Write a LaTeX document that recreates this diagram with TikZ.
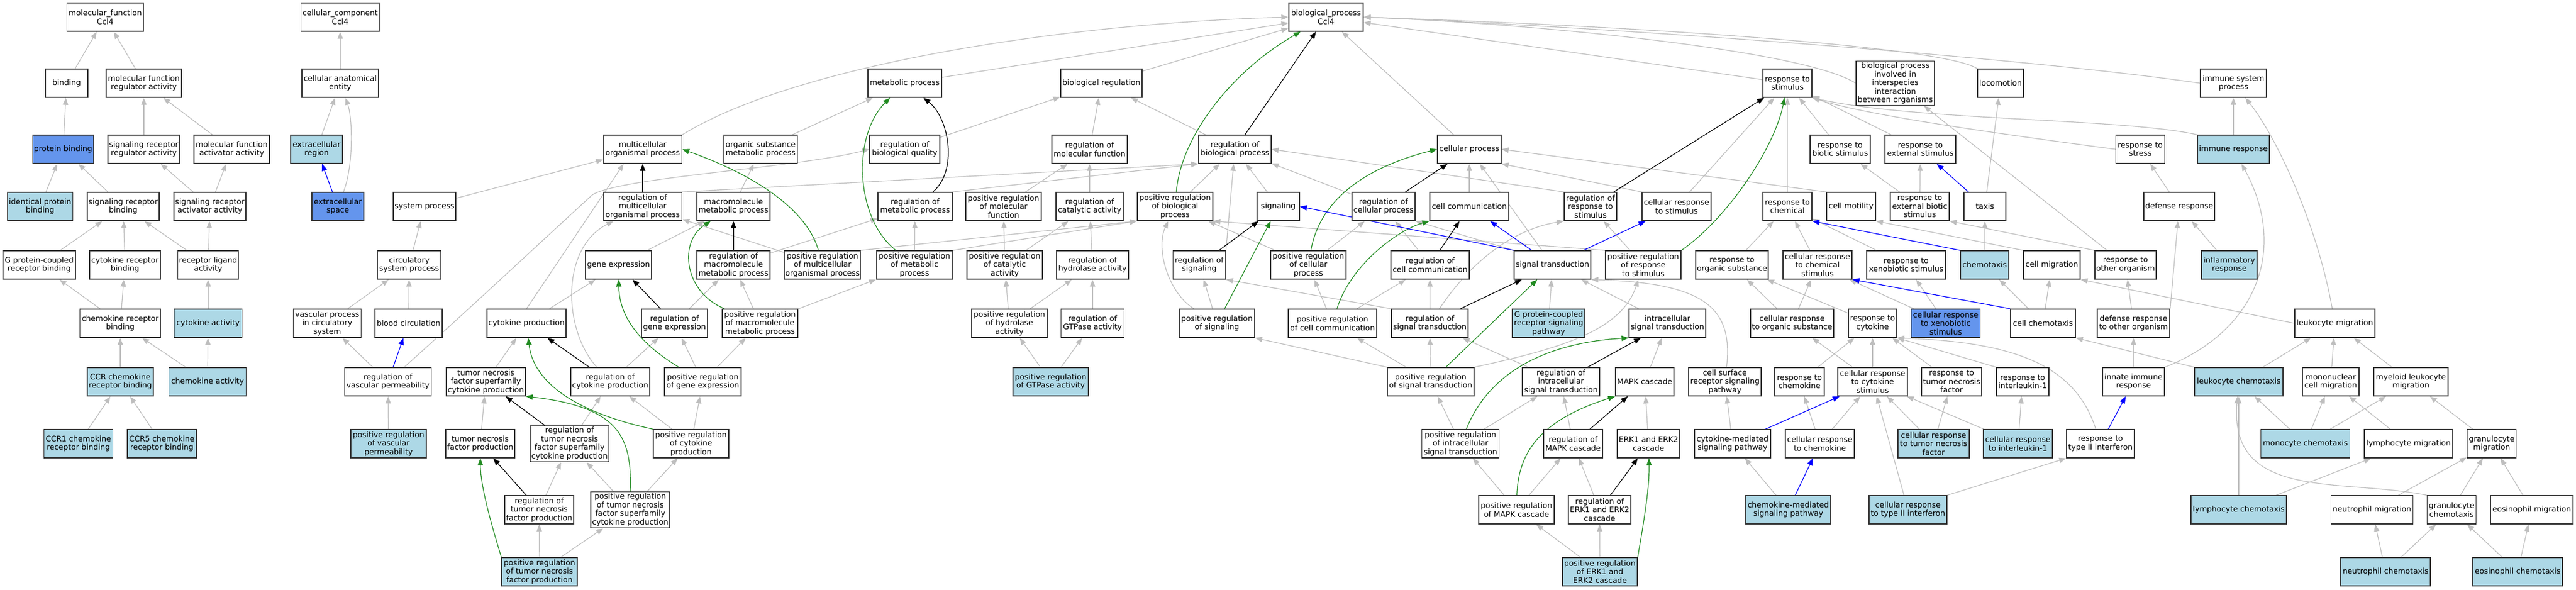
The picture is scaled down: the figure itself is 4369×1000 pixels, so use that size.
\documentclass[tikz,border=0pt]{standalone}
\usepackage{fontspec}
\setmainfont{DejaVu Sans}
\usetikzlibrary{arrows.meta,backgrounds}
\definecolor{lb}{HTML}{ADD8E6}
\definecolor{db}{HTML}{6495ED}
\definecolor{edgegray}{HTML}{BEBEBE}
\definecolor{fgreen}{HTML}{228B22}

\begin{document}
\begin{tikzpicture}[x=1pt, y=-1pt,
	term/.style={draw=black!80, line width=1.4pt, fill=white, rectangle, minimum width=#1, minimum height=48pt, inner xsep=1pt, inner ysep=2.5pt, align=center, font=\fontsize{13}{14.5}\selectfont},
	lbterm/.style={term=#1, fill=lb},
	dbterm/.style={term=#1, fill=db},
	link/.style={line width=1.2pt, -{Triangle[length=12pt,width=9pt]}},
	isa/.style={link, draw=edgegray},
	regl/.style={link, draw=black},
	posl/.style={link, draw=fgreen},
	partl/.style={link, draw=blue}]
			\useasboundingbox (0,0) rectangle (4369,1000);
			% rank 0
			\node[term=130] (mf) at (178.5,29) {molecular\_function\\Ccl4};
			\node[term=133] (cc) at (577,29) {cellular\_component\\Ccl4};
			\node[term=126] (biop) at (2249,29) {biological\_process\\Ccl4};
			% rank 1
			\node[term=72] (binding) at (113,141) {binding};
			\node[term=128] (mfreg) at (244,141) {molecular function\\regulator activity};
			\node[term=130] (cae) at (577,141) {cellular anatomical\\entity};
			\node[term=125] (metab) at (1534.5,141) {metabolic process};
			\node[term=138] (bioreg) at (1868,141) {biological regulation};
			\node[term=83] (respstim) at (3031.5,141) {response to\\stimulus};
			\node[term=133] (bpinter) at (3214.5,141) {biological process\\involved in\\interspecies\\interaction\\between organisms};
			\node[term=78] (locom) at (3393,141) {locomotion};
			\node[term=112] (immsys) at (3788,141) {immune system\\process};
			% rank 2
			\node[dbterm=103] (protbind) at (107,253) {protein binding};
			\node[term=122] (srra) at (244,253) {signaling receptor\\regulator activity};
			\node[term=128] (mfaa) at (393,253) {molecular function\\activator activity};
			\node[lbterm=88] (exreg) at (537,253) {extracellular\\region};
			\node[term=133] (multi) at (1090,253) {multicellular\\organismal process};
			\node[term=125] (organic) at (1290,253) {organic substance\\metabolic process};
			\node[term=119] (regbq) at (1534.5,253) {regulation of\\biological quality};
			\node[term=128] (regmf) at (1848,253) {regulation of\\molecular function};
			\node[term=123] (regbp) at (2094.5,253) {regulation of\\biological process};
			\node[term=108] (cellproc) at (2492,253) {cellular process};
			\node[term=102] (respbio) at (3121,253) {response to\\biotic stimulus};
			\node[term=120] (respext) at (3257,253) {response to\\external stimulus};
			\node[term=83] (respstress) at (3630,253) {response to\\stress};
			\node[lbterm=122] (immresp) at (3788,253) {immune response};
			% rank 3
			\node[lbterm=111] (idprot) at (68,350) {identical protein\\binding};
			\node[term=122] (srb) at (209,350) {signaling receptor\\binding};
			\node[term=122] (sraa) at (356,350) {signaling receptor\\activator activity};
			\node[dbterm=88] (exspace) at (573,350) {extracellular\\space};
			\node[term=106] (sysproc) at (720,350) {system process};
			\node[term=133] (regmulti) at (1090,350) {regulation of\\multicellular\\organismal process};
			\node[term=124] (macro) at (1244,350) {macromolecule\\metabolic process};
			\node[term=126] (regmetab) at (1552,350) {regulation of\\metabolic process};
			\node[term=128] (posregmf) at (1702,350) {positive regulation\\of molecular\\function};
			\node[term=114] (regcat) at (1848,350) {regulation of\\catalytic activity};
			\node[term=128] (posregbp) at (1993,350) {positive regulation\\of biological\\process};
			\node[term=72] (signaling) at (2168,350) {signaling};
			\node[term=107] (regcp) at (2346.5,350) {regulation of\\cellular process};
			\node[term=134] (cellcomm) at (2492,350) {cell communication};
			\node[term=89] (regresp) at (2697.5,350) {regulation of\\response to\\stimulus};
			\node[term=117] (cellresp) at (2843.5,350) {cellular response\\to stimulus};
			\node[term=83] (respchem) at (3031.5,350) {response to\\chemical};
			\node[term=83] (cellmot) at (3139.5,350) {cell motility};
			\node[term=100] (respextbio) at (3256,350) {response to\\external biotic\\stimulus};
			\node[term=71] (taxis) at (3366.5,350) {taxis};
			\node[term=120] (defense) at (3696,350) {defense response};
			% rank 4
			\node[term=123] (gpcrb) at (66.5,449) {G protein-coupled\\receptor binding};
			\node[term=120] (crb) at (212,449) {cytokine receptor\\binding};
			\node[term=103] (rla) at (353,449) {receptor ligand\\activity};
			\node[term=107] (circ) at (694,449) {circulatory\\system process};
			\node[term=112] (geneexp) at (1049,449) {gene expression};
			\node[term=124] (regmacro) at (1244,449) {regulation of\\macromolecule\\metabolic process};
			\node[term=129] (posregmulti) at (1395,449) {positive regulation\\of multicellular\\organismal process};
			\node[term=129] (posregmetab) at (1551,449) {positive regulation\\of metabolic\\process};
			\node[term=128] (posregcat) at (1704,449) {positive regulation\\of catalytic\\activity};
			\node[term=122] (reghydro) at (1853,449) {regulation of\\hydrolase activity};
			\node[term=89] (regsig) at (2034,449) {regulation of\\signaling};
			\node[term=128] (posregcp) at (2219,449) {positive regulation\\of cellular\\process};
			\node[term=133] (regcc) at (2425.5,449) {regulation of\\cell communication};
			\node[term=130] (sigtrans) at (2633,449) {signal transduction};
			\node[term=128] (posregresp) at (2787,449) {positive regulation\\of response\\to stimulus};
			\node[term=123] (respnorg) at (2937.5,449) {response to\\organic substance};
			\node[term=117] (cellrespchem) at (3082.5,449) {cellular response\\to chemical\\stimulus};
			\node[term=134] (respxeno) at (3233,449) {response to\\xenobiotic stimulus};
			\node[lbterm=82] (chemotaxis) at (3366,449) {chemotaxis};
			\node[term=96] (cellmig) at (3480,449) {cell migration};
			\node[term=104] (respother) at (3605,449) {response to\\other organism};
			\node[lbterm=94] (inflam) at (3781,449) {inflammatory\\response};
			% rank 5
			\node[term=137] (chemrb) at (204,548) {chemokine receptor\\binding};
			\node[lbterm=115] (cytact) at (353,548) {cytokine activity};
			\node[term=115] (vasc) at (555,548) {vascular process\\in circulatory\\system};
			\node[term=114] (bloodcirc) at (693,548) {blood circulation};
			\node[term=134] (cytprod) at (893,548) {cytokine production};
			\node[term=112] (reggene) at (1144,548) {regulation of\\gene expression};
			\node[term=128] (posregmacro) at (1289,548) {positive regulation\\of macromolecule\\metabolic process};
			\node[term=128] (posreghydro) at (1712,548) {positive regulation\\of hydrolase\\activity};
			\node[term=107] (reggtp) at (1853,548) {regulation of\\GTPase activity};
			\node[term=128] (posregsig) at (2064,548) {positive regulation\\of signaling};
			\node[term=150] (posregcc) at (2260,548) {positive regulation\\of cell communication};
			\node[term=130] (regst) at (2425,548) {regulation of\\signal transduction};
			\node[lbterm=123] (gpcrsp) at (2626.5,548) {G protein-coupled\\receptor signaling\\pathway};
			\node[term=130] (intra) at (2828,548) {intracellular\\signal transduction};
			\node[term=141] (cellresporg) at (3039.5,548) {cellular response\\to organic substance};
			\node[term=82] (respcyt) at (3176,548) {response to\\cytokine};
			\node[dbterm=117] (cellrespxeno) at (3300,548) {cellular response\\to xenobiotic\\stimulus};
			\node[term=110] (cellchemo) at (3465,548) {cell chemotaxis};
			\node[term=123] (defother) at (3618.5,548) {defense response\\to other organism};
			\node[term=136] (leukmig) at (3960,548) {leukocyte migration};
			% rank 6
			\node[lbterm=112] (ccrb) at (204,647) {CCR chemokine\\receptor binding};
			\node[lbterm=131] (chemact) at (352,647) {chemokine activity};
			\node[term=147] (regvp) at (658,647) {regulation of\\vascular permeability};
			\node[term=134] (tnfsf) at (824,647) {tumor necrosis\\factor superfamily\\cytokine production};
			\node[term=134] (regcyt) at (1035,647) {regulation of\\cytokine production};
			\node[term=130] (posreggene) at (1192,647) {positive regulation\\of gene expression};
			\node[lbterm=128] (posreggtp) at (1782,647) {positive regulation\\of GTPase activity};
			\node[term=147] (posregst) at (2426.5,647) {positive regulation\\of signal transduction};
			\node[term=131] (regintra) at (2647.5,647) {regulation of\\intracellular\\signal transduction};
			\node[term=99] (mapk) at (2789.5,647) {MAPK cascade};
			\node[term=123] (csrsp) at (2925.5,647) {cell surface\\receptor signaling\\pathway};
			\node[term=84] (respchemok) at (3052,647) {response to\\chemokine};
			\node[term=118] (cellrespcyt) at (3176,647) {cellular response\\to cytokine\\stimulus};
			\node[term=102] (resptnf) at (3310,647) {response to\\tumor necrosis\\factor};
			\node[term=89] (respil1) at (3430.5,647) {response to\\interleukin-1};
			\node[term=105] (innate) at (3618.5,647) {innate immune\\response};
			\node[lbterm=150] (leukchemo) at (3797,647) {leukocyte chemotaxis};
			\node[term=96] (mononuc) at (3953,647) {mononuclear\\cell migration};
			\node[term=126] (myeloid) at (4089,647) {myeloid leukocyte\\migration};
			% rank 7
			\node[lbterm=117] (ccr1) at (133,752) {CCR1 chemokine\\receptor binding};
			\node[lbterm=117] (ccr5) at (274.5,752) {CCR5 chemokine\\receptor binding};
			\node[lbterm=128] (posregvp) at (659,752) {positive regulation\\of vascular\\permeability};
			\node[term=117] (tnfprod) at (814.5,752) {tumor necrosis\\factor production};
			\node[term=133] (regtnfsf) at (966,752) {regulation of\\tumor necrosis\\factor superfamily\\cytokine production};
			\node[term=128] (posregcyt) at (1172,752) {positive regulation\\of cytokine\\production};
			\node[term=131] (posregintra) at (2477,752) {positive regulation\\of intracellular\\signal transduction};
			\node[term=100] (regmapk) at (2668,752) {regulation of\\MAPK cascade};
			\node[term=106] (erk) at (2796,752) {ERK1 and ERK2\\cascade};
			\node[term=129] (cytmsp) at (2938.5,752) {cytokine-mediated\\signaling pathway};
			\node[term=117] (cellrespchemok) at (3086.5,752) {cellular response\\to chemokine};
			\node[lbterm=121] (cellresptnf) at (3279.5,752) {cellular response\\to tumor necrosis\\factor};
			\node[lbterm=117] (cellrespil1) at (3422.5,752) {cellular response\\to interleukin-1};
			\node[term=115] (resptype2) at (3562.5,752) {response to\\type II interferon};
			\node[lbterm=151] (monochemo) at (3910,752) {monocyte chemotaxis};
			\node[term=150] (lymphmig) at (4085,752) {lymphocyte migration};
			\node[term=83] (granmig) at (4226,752) {granulocyte\\migration};
			% rank 8
			\node[term=117] (regtnf) at (914.5,864) {regulation of\\tumor necrosis\\factor production};
			\node[term=134] (posregtnfsf) at (1069,864) {positive regulation\\of tumor necrosis\\factor superfamily\\cytokine production};
			\node[term=128] (posregmapk) at (2572,864) {positive regulation\\of MAPK cascade};
			\node[term=106] (regerk) at (2713,864) {regulation of\\ERK1 and ERK2\\cascade};
			\node[lbterm=144] (chemokmsp) at (3033,864) {chemokine-mediated\\signaling pathway};
			\node[lbterm=132] (cellresptype2) at (3236,864) {cellular response\\to type II interferon};
			\node[lbterm=162] (lymphchemo) at (3797,864) {lymphocyte chemotaxis};
			\node[term=139] (neutmig) at (4023,864) {neutrophil migration};
			\node[term=83] (granchemo) at (4158,864) {granulocyte\\chemotaxis};
			\node[term=140] (eosmig) at (4294,864) {eosinophil migration};
			% rank 9
			\node[lbterm=128] (posregtnf) at (915,969) {positive regulation\\of tumor necrosis\\factor production};
			\node[lbterm=127] (posregerk) at (2713.5,969) {positive regulation\\of ERK1 and\\ERK2 cascade};
			\node[lbterm=152] (neutchemo) at (4046,969) {neutrophil chemotaxis};
			\node[lbterm=152] (eoschemo) at (4270,969) {eosinophil chemotaxis};

			\begin{scope}[on background layer]
			\fill[white] (0,0) rectangle (4369,1000);
			% is_a
			\foreach \a/\b in {binding/mf, mfreg/mf, cae/cc, protbind/binding, srra/mfreg, mfaa/mfreg, exreg/cae,
				idprot/protbind, srb/protbind, sraa/srra, sraa/mfaa, gpcrb/srb, crb/srb, rla/srb, rla/sraa,
				chemrb/gpcrb, chemrb/crb, cytact/rla, ccrb/chemrb, chemact/chemrb, chemact/cytact, ccr1/ccrb, ccr5/ccrb,
				circ/sysproc, vasc/circ, bloodcirc/circ, regvp/vasc, posregvp/regvp, sysproc/multi,
				geneexp/macro, macro/organic, organic/metab, metab/biop, bioreg/biop, cellproc/biop, respstim/biop,
				regbq/bioreg, regmf/bioreg, regbp/bioreg, posregmf/regmf, regcat/regmf, posregcat/posregmf, posregcat/regcat,
				reghydro/regcat, posreghydro/posregcat, posreghydro/reghydro, reggtp/reghydro, posreggtp/posreghydro, posreggtp/reggtp,
				posregmetab/regmetab, posregmulti/regmulti, reggene/regmacro, posregmacro/regmacro, cytprod/geneexp,
				regmacro/regmetab, posregmacro/posregmetab, tnfsf/cytprod, regcyt/reggene, posreggene/reggene, posreggene/posregmacro,
				tnfprod/tnfsf, regtnfsf/regcyt, posregcyt/regcyt, posregcyt/posreggene, regtnf/regtnfsf, posregtnfsf/regtnfsf,
				posregtnfsf/posregcyt, posregtnf/regtnf, posregtnf/posregtnfsf,
				posregbp/regbp, signaling/regbp, posregcp/posregbp, posregsig/regsig, posregcp/regcp, regcc/regcp, regcp/regbp,
				cellcomm/cellproc, sigtrans/cellproc, cellresp/respstim, posregcc/posregcp, posregcc/regcc, regst/regcc,
				posregresp/regresp, posregst/posregcc, posregst/regst, regintra/regst, gpcrsp/sigtrans, intra/sigtrans,
				posregintra/posregst, posregintra/regintra, regmapk/regintra, mapk/intra, erk/mapk, posregmapk/posregintra,
				posregmapk/regmapk, regerk/regmapk, posregerk/posregmapk, posregerk/regerk,
				respchem/respstim, respbio/respstim, respext/respstim, respextbio/respbio, respextbio/respext, taxis/locom,
				respnorg/respchem, cellrespchem/respchem, respxeno/respchem, chemotaxis/taxis, defense/respstress,
				inflam/defense, immresp/immsys, respother/bpinter, cellresporg/respnorg, cellresporg/cellrespchem,
				respcyt/respnorg, cellrespxeno/cellrespchem, cellrespxeno/respxeno, cellchemo/chemotaxis, cellchemo/cellmig,
				defother/respother, innate/defother, respchemok/respcyt, cellrespcyt/respcyt, resptnf/respcyt,
				cellrespcyt/cellresporg, cellrespchemok/cellrespcyt, cellresptnf/cellrespcyt, cellrespil1/cellrespcyt,
				cellresptype2/cellrespcyt, cellrespchemok/respchemok, cellresptnf/resptnf, cellrespil1/respil1,
				cytmsp/csrsp, chemokmsp/cytmsp,
				leukchemo/leukmig, mononuc/leukmig, myeloid/leukmig, monochemo/leukchemo, monochemo/mononuc, monochemo/myeloid,
				lymphmig/mononuc, granmig/myeloid, lymphchemo/leukchemo, lymphchemo/lymphmig, neutmig/granmig, granchemo/granmig,
				eosmig/granmig, neutchemo/neutmig, neutchemo/granchemo, eoschemo/granchemo, eoschemo/eosmig}
				\draw[isa] (\a) -- (\b);
			\draw[isa] (exspace) .. controls (600,280) and (598,200) .. (cae);
			\draw[isa] (regvp) .. controls (800,520) and (955,375) .. (1005,330) .. controls (1055,300) and (1350,285) .. (regbq.west);
			\draw[isa] (multi.north east) .. controls (1350,110) and (1800,40) .. (biop.west);
			\draw[isa] (bpinter.west) .. controls (3060,85) and (2600,40) .. (biop.east);
			\draw[isa] (locom.north west) .. controls (3300,80) and (2800,45) .. (biop.east);
			\draw[isa] (immsys.west) .. controls (3450,100) and (2800,50) .. (biop.east);
			\draw[isa] (cytprod.north) -- ([xshift=35pt]multi.south west);
			\draw[isa] (regcyt) .. controls (955,560) and (950,420) .. (regmulti);
			\draw[isa] (regmulti.north east) -- (regbp.south west);
			\draw[isa] (regmetab.north east) -- (regbp.south west);
			\draw[isa] (posregmetab.north east) -- (posregbp.south west);
			\draw[isa] (posregmulti.north east) -- (posregbp.south west);
			\draw[isa] (regsig.north east) -- (regbp);
			\draw[isa] (posregsig) .. controls (1980,495) and (1960,420) .. (posregbp);
			\draw[isa] (posregresp.north west) -- (posregbp.south east);
			\draw[isa] (regresp.north west) -- (regbp.east);
			\draw[isa] (sigtrans.north west) -- (regcp.south east);
			\draw[isa] (cellresp.north west) -- (cellproc.south east);
			\draw[isa] (cellmot.north west) -- (cellproc.east);
			\draw[isa] (respstress.west) .. controls (3300,215) and (3150,190) .. (respstim.south east);
			\draw[isa] (immresp.north west) .. controls (3600,200) and (3250,205) .. (respstim.south east);
			\draw[isa] (cellmig.north west) -- (cellmot.south east);
			\draw[isa] (respother.north west) -- (respextbio.south east);
			\draw[isa] (regst.north west) -- (regsig.south east);
			\draw[isa] (regst) .. controls (2490,450) and (2560,390) .. (regresp.south west);
			\draw[isa] (posregst.north west) -- (posregsig.south east);
			\draw[isa] (posregst.north east) .. controls (2650,590) and (2750,560) .. (posregresp);
			\draw[isa] (csrsp) .. controls (2940,520) and (2890,480) .. (sigtrans.south east);
			\draw[isa] (defother.north east) -- (defense);
			\draw[isa] (innate.north east) .. controls (3830,560) and (3880,420) .. (immresp);
			\draw[isa] (leukmig) .. controls (3930,380) and (3860,230) .. (immsys);
			\draw[isa] (leukmig.west) -- (cellmig.south east);
			\draw[isa] (leukchemo.north west) -- (cellchemo.south east);
			\draw[isa] (resptype2) .. controls (3520,620) and (3420,580) .. (respcyt.south east);
			\draw[isa] (respil1.north west) -- (respcyt.south east);
			\draw[isa] (cellresptype2.north east) -- (resptype2.south west);
			\draw[isa] (granchemo.north west) .. controls (3970,810) and (3780,850) .. (leukchemo);
			% regulates
			\foreach \a/\b in {regmulti/multi, regmacro/macro, reggene/geneexp, regcyt/cytprod, regtnfsf/tnfsf, regtnf/tnfprod,
				regbp/biop, regsig/signaling, regcp/cellproc, regcc/cellcomm, regst/sigtrans, regresp/respstim,
				regintra/intra, regmapk/mapk, regerk/erk}
				\draw[regl] (\a) -- (\b);
			\draw[regl] (regmetab) .. controls (1625,290) and (1610,200) .. (metab);
			% positively regulates
			\foreach \a/\b in {posregst/sigtrans, posregsig/signaling}
				\draw[posl] (\a) -- (\b);
			\draw[posl] (posregmulti) .. controls (1370,360) and (1290,300) .. (multi.east);
			\draw[posl] (posregmacro) .. controls (1160,495) and (1150,410) .. (macro);
			\draw[posl] (posreggene) .. controls (1065,570) and (1050,520) .. (geneexp);
			\draw[posl] (posregmetab) .. controls (1450,370) and (1445,230) .. (metab);
			\draw[posl] (posregbp) .. controls (2003,230) and (2090,120) .. (biop);
			\draw[posl] (posregcyt.north west) .. controls (980,700) and (905,650) .. (cytprod);
			\draw[posl] (posregtnfsf.north) .. controls (1072,740) and (1050,690) .. (tnfsf.south east);
			\draw[posl] (posregtnf.north west) .. controls (840,910) and (815,830) .. (tnfprod);
			\draw[posl] (posregcp) .. controls (2240,330) and (2330,280) .. (cellproc.west);
			\draw[posl] (posregcc) .. controls (2290,450) and (2370,390) .. (cellcomm.south west);
			\draw[posl] (posregresp.north east) .. controls (2930,370) and (3010,250) .. (respstim);
			\draw[posl] (posregintra) .. controls (2530,620) and (2640,580) .. (intra.south west);
			\draw[posl] (posregmapk) .. controls (2575,760) and (2620,710) .. (mapk.south west);
			\draw[posl] (posregerk.north east) .. controls (2785,900) and (2798,830) .. (erk);
			% part of
			\foreach \a/\b in {exspace/exreg, regvp/bloodcirc, sigtrans/cellcomm, sigtrans/cellresp, taxis/respext,
				cytmsp/cellrespcyt, chemokmsp/cellrespchemok, resptype2/innate}
				\draw[partl] (\a) -- (\b);
			\draw[partl] (sigtrans.north west) -- (signaling.east);
			\draw[partl] (chemotaxis.north west) -- (respchem.south east);
			\draw[partl] (cellchemo.north west) -- (cellrespchem.south east);
			\end{scope}
		\end{tikzpicture}
\end{document}
